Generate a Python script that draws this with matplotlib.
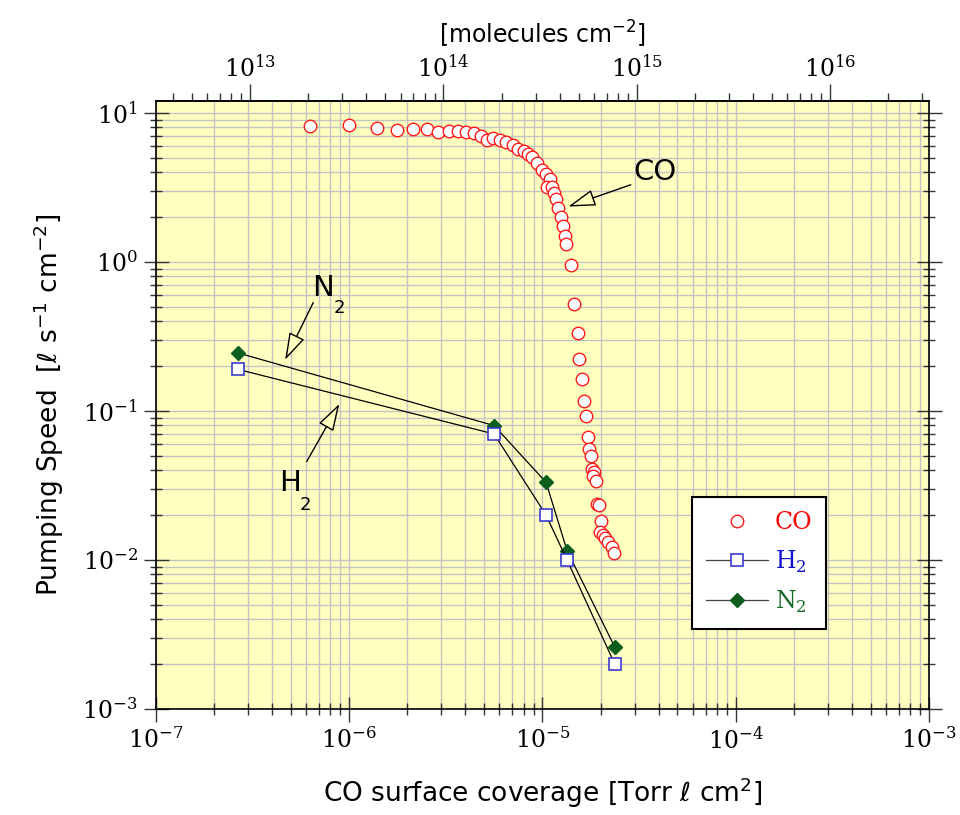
import matplotlib
matplotlib.use('Agg')
import matplotlib.pyplot as plt
from matplotlib.ticker import LogLocator, NullFormatter, FixedLocator

plt.rcParams['axes.unicode_minus'] = False

# ---------------- data ----------------
co_x = [6.31e-7, 1.004e-6, 1.39e-6, 1.765e-6, 2.14e-6, 2.52e-6, 2.89e-6, 3.29e-6,
        3.67e-6, 4.04e-6, 4.42e-6, 4.83e-6, 5.19e-6, 5.56e-6, 6.01e-6, 6.51e-6,
        7.04e-6, 7.51e-6, 8.01e-6, 8.41e-6, 8.84e-6, 9.39e-6, 9.99e-6, 1.043e-5,
        1.092e-5, 1.054e-5, 1.126e-5, 1.15e-5, 1.173e-5, 1.21e-5, 1.25e-5, 1.275e-5,
        1.306e-5, 1.326e-5, 1.399e-5, 1.453e-5, 1.52e-5, 1.553e-5, 1.598e-5, 1.643e-5,
        1.681e-5, 1.713e-5, 1.744e-5, 1.78e-5, 1.812e-5, 1.858e-5, 1.836e-5, 1.89e-5,
        1.923e-5, 1.965e-5, 2.007e-5, 1.988e-5, 2.053e-5, 2.098e-5, 2.193e-5, 2.286e-5,
        2.346e-5]
co_y = [8.14, 8.27, 7.93, 7.65, 7.81, 7.81, 7.42, 7.54, 7.55, 7.44, 7.36, 7.04, 6.59,
        6.80, 6.62, 6.37, 6.07, 5.75, 5.53, 5.32, 5.03, 4.58, 4.14, 3.87, 3.62, 3.16,
        3.17, 2.89, 2.64, 2.31, 2.0, 1.73, 1.48, 1.31, 0.947, 0.52, 0.331, 0.2227,
        0.1634, 0.1167, 0.0923, 0.0672, 0.0556, 0.0495, 0.0406, 0.0387, 0.0368, 0.0336,
        0.0239, 0.0232, 0.01827, 0.01537, 0.0146, 0.0141, 0.0131, 0.01217, 0.0111]

gas_x = [2.66e-7, 5.63e-6, 1.045e-5, 1.342e-5, 2.37e-5]
h2_y = [0.19, 0.07, 0.02, 0.01, 0.002]
n2_y = [0.245, 0.0797, 0.0332, 0.01155, 0.0026]

series_labels = ['CO', r'H$_{\mathdefault{2}}$', r'N$_{\mathdefault{2}}$']
x_limits = [1e-7, 1e-3]
y_limits = [1e-3, 12.0]
top_major_ticks = [1e13, 1e14, 1e15, 1e16]
top_decades = [12, 13, 14, 15, 16]
torr_l_to_molecules = 3.25e19

# annotation anchors (data coordinates)
co_arrow = dict(tip=(1.363e-5, 2.35), tail=(2.866e-5, 3.29), text=(3.83e-5, 4.02))
n2_arrow = dict(tip=(4.67e-7, 0.22), tail=(6.53e-7, 0.533),
                text=(7.34e-7, 0.669), sub=(8.88e-7, 0.491))
h2_arrow = dict(tip=(8.91e-7, 0.1114), tail=(6.04e-7, 0.0457),
                text=(4.95e-7, 0.0329), sub=(5.92e-7, 0.0234))

# ---------------- style ----------------
BG = '#FFFFC0'
GRID = '#C4C4C4'
SERIF = 'DejaVu Serif'
SANS = 'DejaVu Sans'

fig = plt.figure(figsize=(9.6, 8.15), dpi=100)
fig.patch.set_facecolor('white')
ax = fig.add_axes([155.7 / 960, 1 - 709 / 815, (929 - 155.7) / 960, (709 - 101) / 815])
ax.set_facecolor(BG)
ax.set_xscale('log')
ax.set_yscale('log')
ax.set_xlim(*x_limits)
ax.set_ylim(*y_limits)

ax.xaxis.set_major_locator(LogLocator(base=10, numticks=20))
ax.xaxis.set_minor_locator(LogLocator(base=10, subs=range(2, 10), numticks=50))
ax.yaxis.set_major_locator(LogLocator(base=10, numticks=20))
ax.yaxis.set_minor_locator(LogLocator(base=10, subs=range(2, 10), numticks=50))
ax.xaxis.set_minor_formatter(NullFormatter())
ax.yaxis.set_minor_formatter(NullFormatter())

ax.grid(True, which='both', color=GRID, lw=1.0, zorder=0)
ax.set_axisbelow(True)

for s in ax.spines.values():
    s.set_linewidth(1.2)
    s.set_color('black')

ax.tick_params(which='both', direction='inout', left=True, right=True,
               bottom=True, top=False, color='#333333')
ax.tick_params(which='major', length=18, width=1.0, labelsize=17, pad=4,
               labelfontfamily=SERIF)
ax.tick_params(which='minor', length=9, width=1.0)

# ---------------- series ----------------
ax.plot(gas_x, n2_y, color='black', lw=0.9, marker='D', ms=7,
        mfc='#0B5E1E', mec='#0B5E1E', zorder=3, label=series_labels[2])
ax.plot(gas_x, h2_y, color='black', lw=0.9, marker='s', ms=8.5,
        mfc='white', mec='#3B3BD0', mew=1.2, zorder=3, label=series_labels[1])
ax.plot(co_x, co_y, ls='none', marker='o', ms=9, mfc='white', mec='#FF1A1A',
        mew=1.0, zorder=4, label=series_labels[0])

# ---------------- legend ----------------
handles, labels = ax.get_legend_handles_labels()
order = [2, 1, 0]
leg = ax.legend([handles[i] for i in order], [labels[i] for i in order],
                loc='upper left', bbox_to_anchor=((692 - 155.7) / 773.3, (709 - 497) / 608),
                borderaxespad=0, frameon=True, fancybox=False, framealpha=1,
                edgecolor='black', facecolor='white',
                prop={'family': SERIF, 'size': 17}, handlelength=2.6,
                handletextpad=0.3, labelspacing=0.6, borderpad=0.6)
leg.get_frame().set_linewidth(1.5)
for txt, col in zip(leg.get_texts(), ['#FF0000', '#1010D0', '#1A6B2A']):
    txt.set_color(col)
for lh in leg.get_lines():
    lh.set_color('#444444')
leg.set_zorder(5)

# ---------------- annotations ----------------
def hollow_arrow(d):
    ax.annotate('', xy=d['tip'], xytext=d['tail'],
                arrowprops=dict(arrowstyle='-|>,head_length=0.85,head_width=0.26',
                                mutation_scale=20, fc=BG, ec='black', lw=1.0,
                                shrinkA=0, shrinkB=0), zorder=5)

hollow_arrow(co_arrow)
hollow_arrow(n2_arrow)
hollow_arrow(h2_arrow)
ax.text(*co_arrow['text'], 'CO', fontsize=21, family=SANS, ha='center', va='center', zorder=6)
ax.text(*n2_arrow['text'], 'N', fontsize=21, family=SANS, ha='center', va='center', zorder=6)
ax.text(*n2_arrow['sub'], '2', fontsize=13, family=SANS, ha='center', va='center', zorder=6)
ax.text(*h2_arrow['text'], 'H', fontsize=21, family=SANS, ha='center', va='center', zorder=6)
ax.text(*h2_arrow['sub'], '2', fontsize=13, family=SANS, ha='center', va='center', zorder=6)

# ---------------- labels ----------------
ax.set_xlabel(r'CO surface coverage [Torr $\ell$ cm$^{\mathdefault{2}}$]',
              fontsize=19, family=SANS, labelpad=16)
ax.set_ylabel(r'Pumping Speed  [$\ell$ s$^{\mathdefault{-1}}$ cm$^{\mathdefault{-2}}$]',
              fontsize=19, family=SANS, labelpad=12)

secax = ax.secondary_xaxis('top', functions=(lambda x: x * torr_l_to_molecules,
                                             lambda m: m / torr_l_to_molecules))
top_lo = x_limits[0] * torr_l_to_molecules
top_hi = x_limits[1] * torr_l_to_molecules
top_minor = [k * 10.0 ** n for n in top_decades for k in range(2, 10)
             if top_lo <= k * 10.0 ** n <= top_hi]
secax.xaxis.set_major_locator(FixedLocator(top_major_ticks))
secax.xaxis.set_minor_locator(FixedLocator(top_minor))
secax.xaxis.set_minor_formatter(NullFormatter())
secax.tick_params(which='both', direction='out', color='#333333')
secax.tick_params(which='major', length=12, width=1.0, labelsize=17, pad=2,
                  labelfontfamily=SERIF)
secax.tick_params(which='minor', length=6, width=1.0)
secax.spines['top'].set_linewidth(1.2)
secax.set_xlabel(r'[molecules cm$^{\mathdefault{-2}}$]', fontsize=17, family=SANS,
                 labelpad=8)

fig.savefig('out.png', dpi=100, facecolor='white')
